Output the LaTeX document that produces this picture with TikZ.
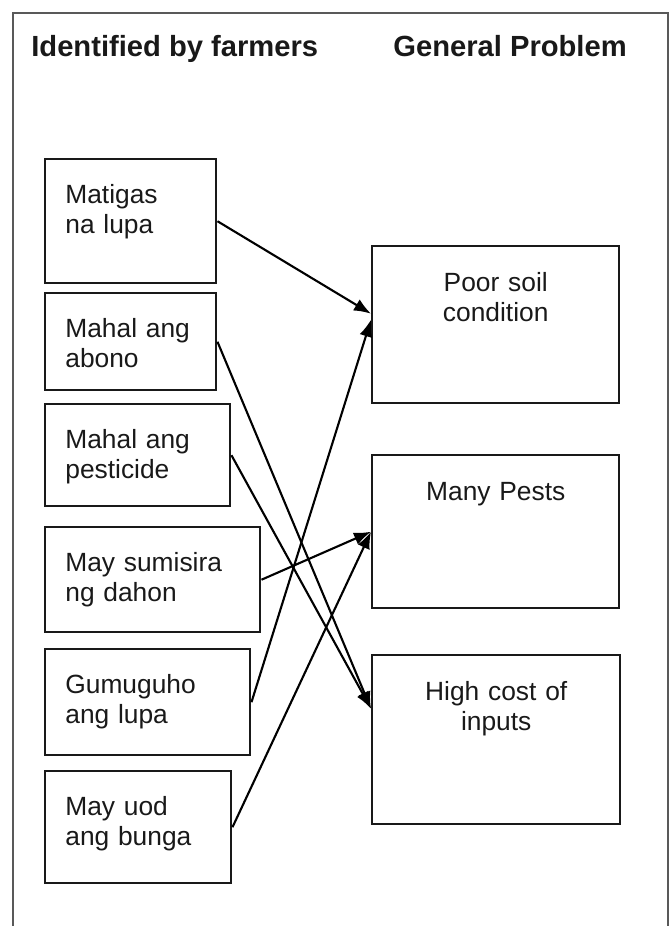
\documentclass[tikz,border=0pt]{standalone}
\usepackage{fontspec}
\setmainfont{Liberation Sans}
\usetikzlibrary{arrows.meta,positioning}

\newlength\pix
\setlength\pix{0.02cm}

\tikzset{
  box/.style={draw=black!90, line width=1.4pt, anchor=north west, inner sep=0pt},
  boxtext/.style={inner sep=0pt, text=black!90, font=\fontsize{15pt}{17.1pt}\selectfont},
  head/.style={inner sep=0pt, anchor=base west, text=black!90, font=\fontsize{16.6pt}{19pt}\selectfont\bfseries},
  link/.style={line width=1.2pt, -{Latex[length=0.34cm, width=0.26cm]}}
}

\begin{document}
\begin{tikzpicture}[x=\pix, y=-\pix]
\useasboundingbox (0,0) rectangle (672,926);
\draw[black!65, line width=1.2pt] (13,930) -- (13,13) -- (668,13) -- (668,930);

\node[head] (h1) at (31,57) {Identified by farmers};
\node[head] (h2) at (393,57) {General Problem};

% farmers' boxes
\node[box, minimum width=171\pix, minimum height=124\pix] (m1) at (44,158) {};
\node[box, minimum width=171\pix, minimum height=97\pix] (m2) at (44,292) {};
\node[box, minimum width=185\pix, minimum height=102\pix] (m3) at (44,403) {};
\node[box, minimum width=215\pix, minimum height=105\pix] (m4) at (44,526) {};
\node[box, minimum width=205\pix, minimum height=106\pix] (m5) at (44,648) {};
\node[box, minimum width=186\pix, minimum height=112\pix] (m6) at (44,770) {};
\foreach \n/\t in {m1/{Matigas\\na lupa}, m2/{Mahal ang\\abono}, m3/{Mahal ang\\pesticide},
                   m4/{May sumisira\\ng dahon}, m5/{Gumuguho\\ang lupa}, m6/{May uod\\ang bunga}}
  \node[boxtext, text width=185\pix, align=left, anchor=base west] (\n t) at ([shift={(21,45)}]\n.north west) {\t};

% general problems
\node[box, minimum width=247\pix, minimum height=157\pix] (r1) at (371,245) {};
\node[box, minimum width=247\pix, minimum height=153\pix] (r2) at (371,454) {};
\node[box, minimum width=248\pix, minimum height=169\pix] (r3) at (371,654) {};
\foreach \n/\t in {r1/{Poor soil\\condition}, r2/{Many Pests}, r3/{High cost of\\inputs}}
  \node[boxtext, text width=240\pix, align=center, anchor=base] (\n t) at ([yshift=-46\pix]\n.north) {\t};

\draw[link] (m1.east) -- ([yshift=0.22cm]r1.west);
\draw[link] (m5.east) -- ([yshift=0.1cm]r1.west);
\draw[link] (m4.east) -- (r2.west);
\draw[link] (m6.east) -- (r2.west);
\draw[link] (m2.east) -- ([yshift=0.62cm]r3.west);
\draw[link] (m3.east) -- ([yshift=0.62cm]r3.west);
\end{tikzpicture}
\end{document}
